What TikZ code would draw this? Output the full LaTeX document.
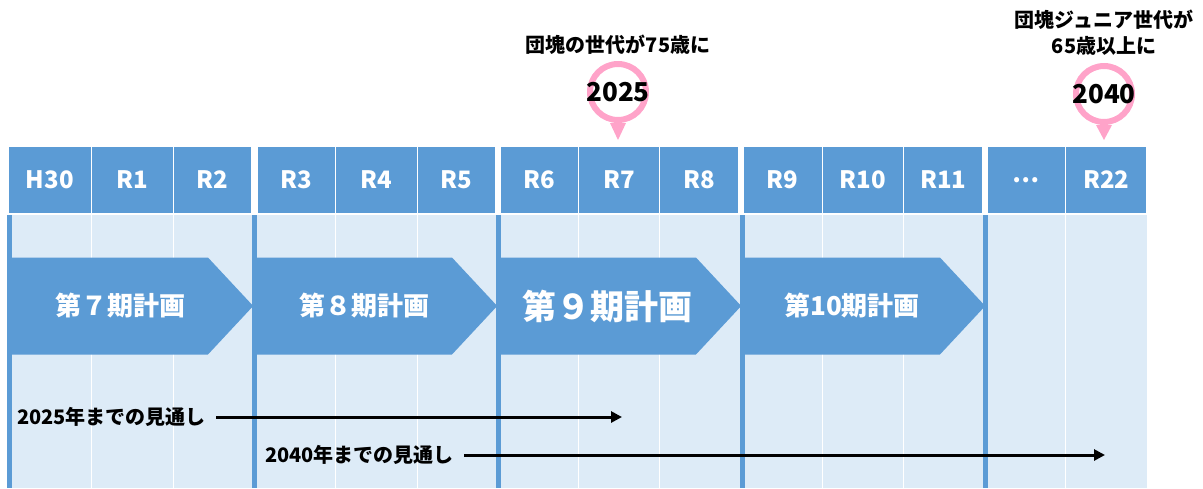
\documentclass[tikz,border=0pt]{standalone}
\usepackage{fontspec}
\setmainfont{Noto Sans CJK JP}
\usetikzlibrary{shapes.symbols,arrows.meta}
\definecolor{planblue}{HTML}{5B9BD5}
\definecolor{bodyblue}{HTML}{DDEBF7}
\definecolor{pinpink}{HTML}{FFA3C9}

\begin{document}
\begin{tikzpicture}[x=1pt, y=-1pt,
cell/.style = {rectangle, fill=planblue, draw=white, line width=1.5pt, minimum height=67, text=white, font=\bfseries\fontsize{24}{30}\selectfont, inner sep=0pt},
plan/.style = {signal, signal to=east, signal pointer angle=94, fill=planblue, minimum height=97, minimum width=243, inner sep=0pt, anchor=west},
plantext/.style = {text=white, font=\bfseries\fontsize{26}{30}\selectfont},
ring/.style = {circle, draw=pinpink, line width=6pt, fill=white, minimum size=56, inner sep=0pt},
year/.style = {font=\bfseries\fontsize{26}{30}\selectfont, inner sep=0pt},
note/.style = {font=\bfseries\fontsize{20}{26}\selectfont, align=center, inner sep=2pt},
span/.style = {line width=3pt, shorten <=8pt, -{Triangle[length=11pt, width=11pt]}},
]
\useasboundingbox (0,0) rectangle (1203,488);

% Draw body and grid
\fill[bodyblue] (8,215) rectangle (1147,488);
\foreach \x in {91.5,173.5,335.5,417.5,578.5,659.5,822.5,903.5,1065.5}
  \draw[white, line width=1.5pt] (\x,215) -- (\x,488);
\foreach \x in {9.5,254,498,742,985.5}
  \draw[planblue, line width=5pt] (\x,215) -- (\x,488);

% Draw header cells
\node[cell, minimum width=83.5] (h30) at (49.75,180) {H30};
\node[cell, minimum width=82] (r1) at (132.5,180) {R1};
\node[cell, minimum width=78.5] (r2) at (212.75,180) {R2};
\node[cell, minimum width=78.5] (r3) at (296.25,180) {R3};
\node[cell, minimum width=82] (r4) at (376.5,180) {R4};
\node[cell, minimum width=78.5] (r5) at (456.75,180) {R5};
\node[cell, minimum width=78.5] (r6) at (539.25,180) {R6};
\node[cell, minimum width=81] (r7) at (619,180) {R7};
\node[cell, minimum width=79.5] (r8) at (699.25,180) {R8};
\node[cell, minimum width=79.5] (r9) at (782.75,180) {R9};
\node[cell, minimum width=81] (r10) at (863,180) {R10};
\node[cell, minimum width=79.5] (r11) at (943.25,180) {R11};
\node[cell, minimum width=78.5] (dots) at (1026.25,180) {…};
\node[cell, minimum width=81.5] (r22) at (1106.25,180) {R22};

% Draw plans
\node[plan] (k7) at (10,306) {};
\node[plan] (k8) at (254,306) {};
\node[plan] (k9) at (498,306) {};
\node[plan] (k10) at (742,306) {};
\node[plantext] (t7) at ([xshift=11pt]k7.center) {第７期計画};
\node[plantext] (t8) at ([xshift=11pt]k8.center) {第８期計画};
\node[plantext, font=\bfseries\fontsize{34}{40}\selectfont] (t9) at ([xshift=10pt]k9.center) {第９期計画};
\node[plantext] (t10) at ([xshift=11pt]k10.center) {第10期計画};

% Draw year pins
\node[ring] (c2025) at (618,92) {};
\fill[pinpink] ([xshift=-8pt]c2025.south) -- ([xshift=8pt]c2025.south) -- ([yshift=-17pt]c2025.south) -- cycle;
\node[year] (y2025) at (c2025) {2025};
\node[ring] (c2040) at (1104,94) {};
\fill[pinpink] ([xshift=-8pt]c2040.south) -- ([xshift=8pt]c2040.south) -- ([yshift=-15pt]c2040.south) -- cycle;
\node[year] (y2040) at (c2040) {2040};

% Label pins
\node[note] (n2025) at (618,45) {団塊の世代が75歳に};
\node[note] (n2040) at (1104,33) {団塊ジュニア世代が\\65歳以上に};

% Draw outlooks
\node[note, anchor=west] (s2025) at (15,417) {2025年までの見通し};
\coordinate (e2025) at (622,417);
\draw[span] (s2025.east) -- (s2025.east -| e2025);
\node[note, anchor=west] (s2040) at (263,455) {2040年までの見通し};
\coordinate (e2040) at (1105,455);
\draw[span] (s2040.east) -- (s2040.east -| e2040);

\end{tikzpicture}
\end{document}
